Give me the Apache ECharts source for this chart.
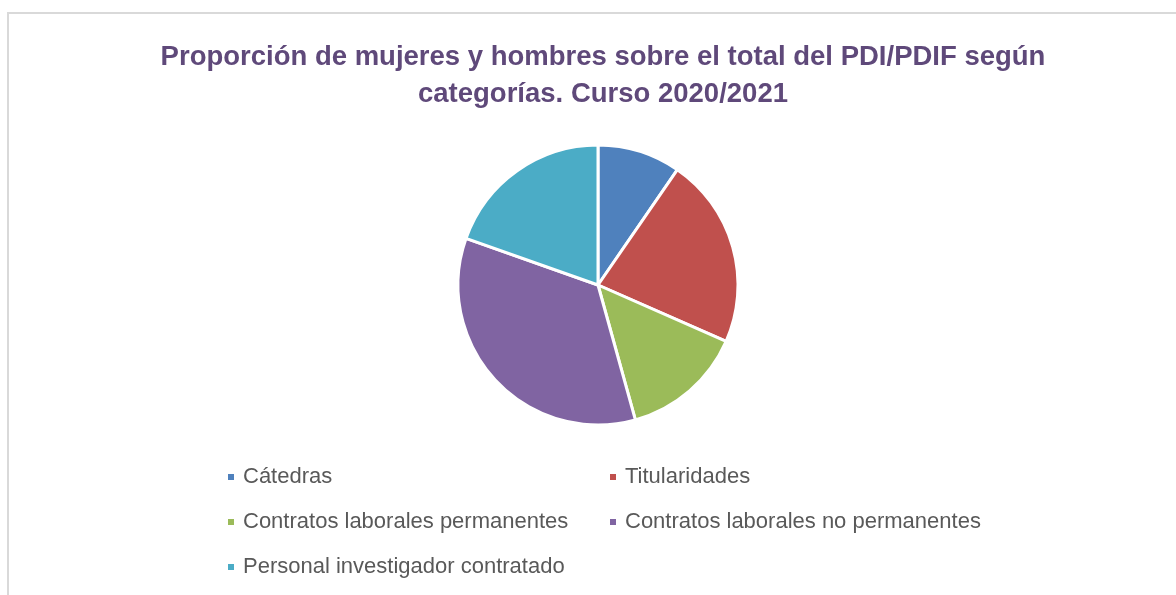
<!DOCTYPE html>
<html>
<head>
<meta charset="utf-8">
<script src="https://cdn.jsdelivr.net/npm/echarts@6/dist/echarts.min.js"></script>
<style>
  html, body { margin: 0; padding: 0; background: #fff; }
  #main { width: 1176px; height: 595px; }
</style>
</head>
<body>
<div id="main"></div>
<script>
// datos (porcentaje aproximado del total)
var categorias = ['Cátedras', 'Titularidades', 'Contratos laborales permanentes', 'Contratos laborales no permanentes', 'Personal investigador contratado'];
var valores = [9.6, 22.0, 14.1, 34.7, 19.6];
var colores = ['#4F81BD', '#C0504D', '#9BBB59', '#8064A2', '#4BACC6'];

var dom = document.getElementById("main");
var myChart = echarts.init(dom);

var legendText = {
    color: '#595959',
    fontSize: 22,
    lineHeight: 22,
    fontFamily: 'Liberation Sans'
};

option = {
    color: colores,
    animation: false,
    title: {
        text: 'Proporción de mujeres y hombres sobre el total del PDI/PDIF según\ncategorías. Curso 2020/2021',
        left: 598,
        top: 34,
        textAlign: 'center',
        textStyle: {
            color: '#5F497A',
            fontSize: 27.5,
            fontWeight: 'bold',
            fontFamily: 'Liberation Sans',
            lineHeight: 37
        }
    },
    legend: [
        {
            data: [categorias[0], categorias[2], categorias[4]],
            orient: 'vertical',
            left: 226,
            top: 466,
            itemGap: 23,
            itemWidth: 8,
            itemHeight: 8,
            icon: 'rect',
            selectedMode: false,
            padding: 0,
            textStyle: Object.assign({ padding: [0, 0, 0, 3] }, legendText)
        },
        {
            data: [categorias[1], categorias[3]],
            orient: 'vertical',
            left: 608,
            top: 466,
            itemGap: 23,
            itemWidth: 8,
            itemHeight: 8,
            icon: 'rect',
            selectedMode: false,
            padding: 0,
            textStyle: Object.assign({ padding: [0, 0, 0, 3] }, legendText)
        }
    ],
    graphic: [
        {
            type: 'polyline',
            shape: { points: [[8, 595], [8, 13], [1176, 13]] },
            style: { stroke: '#D9D9D9', lineWidth: 2, fill: null },
            silent: true
        }
    ],
    series: [
        {
            type: 'pie',
            center: [598, 285],
            radius: 140,
            startAngle: 90,
            clockwise: true,
            label: { show: false },
            labelLine: { show: false },
            emphasis: { disabled: true },
            itemStyle: {
                borderColor: '#fff',
                borderWidth: 3
            },
            data: categorias.map(function (c, i) {
                return { name: c, value: valores[i] };
            })
        }
    ]
};

myChart.setOption(option);
window.addEventListener("resize", function () {
    myChart.resize();
});
</script>
</body>
</html>
